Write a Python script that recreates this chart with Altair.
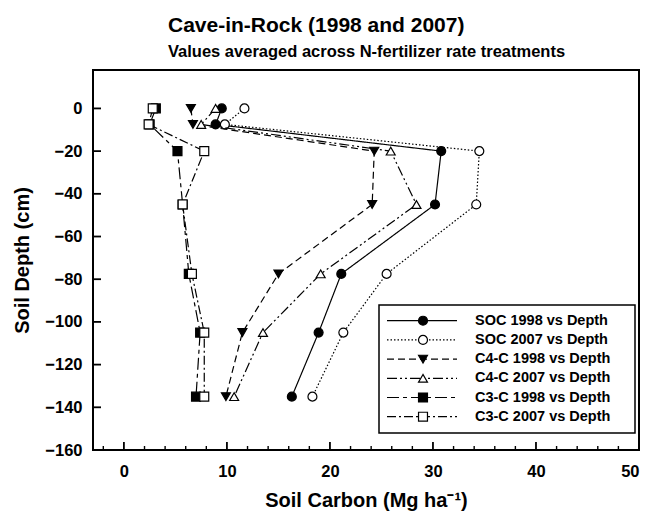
import altair as alt
import pandas as pd

# ---- data ----
depth = [0, -7.5, -20, -45, -77.5, -105, -135]
soc_1998 = [9.5, 8.9, 30.8, 30.2, 21.1, 18.9, 16.3]
soc_2007 = [11.7, 9.8, 34.5, 34.2, 25.5, 21.3, 18.3]
c4_1998 = [6.5, 6.7, 24.3, 24.1, 15.0, 11.5, 9.9]
c4_2007 = [8.9, 7.5, 25.9, 28.4, 19.1, 13.5, 10.7]
c3_1998 = [3.1, 2.5, 5.2, 5.7, 6.3, 7.4, 7.0]
c3_2007 = [2.8, 2.4, 7.8, 5.7, 6.6, 7.8, 7.8]

series_names = ["SOC 1998 vs Depth", "SOC 2007 vs Depth", "C4-C 1998 vs Depth",
                "C4-C 2007 vs Depth", "C3-C 1998 vs Depth", "C3-C 2007 vs Depth"]
series_values = [soc_1998, soc_2007, c4_1998, c4_2007, c3_1998, c3_2007]

x_ticks_major = [0, 10, 20, 30, 40, 50]
x_ticks_minor = [-2, 2, 4, 6, 8, 12, 14, 16, 18, 22, 24, 26, 28, 32, 34, 36, 38, 42, 44, 46, 48]
y_ticks = [-160, -140, -120, -100, -80, -60, -40, -20, 0]

title_text = "Cave-in-Rock (1998 and 2007)"
subtitle_text = "Values averaged across N-fertilizer rate treatments"

# ---- styles ----
styles = [
    dict(shape="circle", filled=True, dash=[1, 0]),
    dict(shape="circle", filled=False, dash=[1.5, 2]),
    dict(shape="triangle-down", filled=True, dash=[7, 4]),
    dict(shape="triangle-up", filled=False, dash=[10, 3, 2, 3, 2, 3]),
    dict(shape="square", filled=True, dash=[12, 4, 4, 4]),
    dict(shape="square", filled=False, dash=[9, 3, 2, 3]),
]

W, H = 546, 380
FONT = "Liberation Sans"

xscale = alt.Scale(domain=[-3, 50], nice=False, zero=False)
yscale = alt.Scale(domain=[-160, 18], nice=False, zero=False)

xaxis = alt.Axis(values=x_ticks_major, ticks=False, domain=False, grid=False,
                 labelFont=FONT, labelFontSize=16.5, labelFontWeight="bold", labelColor="black",
                 labelPadding=13, title="Soil Carbon (Mg ha\u207b\u00b9)", titleFont=FONT,
                 titleFontSize=20, titleFontWeight="bold", titleColor="black", titlePadding=11)
yaxis = alt.Axis(values=y_ticks, ticks=False, domain=False, grid=False,
                 labelFont=FONT, labelFontSize=16.5, labelFontWeight="bold", labelColor="black",
                 labelPadding=11, title="Soil Depth (cm)", titleFont=FONT,
                 titleFontSize=20, titleFontWeight="bold", titleColor="black", titlePadding=12)

layers = []

# inward ticks
df_xmaj = pd.DataFrame({"v": x_ticks_major})
df_xmin = pd.DataFrame({"v": x_ticks_minor})
df_y = pd.DataFrame({"v": y_ticks})
layers.append(alt.Chart(df_xmaj).mark_rule(color="black", strokeWidth=1.8).encode(
    x=alt.X("v:Q", scale=xscale, axis=xaxis), y=alt.value(H), y2=alt.value(H - 8)))
layers.append(alt.Chart(df_xmin).mark_rule(color="black", strokeWidth=1.4).encode(
    x=alt.X("v:Q", scale=xscale), y=alt.value(H), y2=alt.value(H - 4)))
layers.append(alt.Chart(df_y).mark_rule(color="black", strokeWidth=1.8).encode(
    y=alt.Y("v:Q", scale=yscale, axis=yaxis), x=alt.value(0), x2=alt.value(8)))

# data series
for name, vals, st in zip(series_names, series_values, styles):
    df = pd.DataFrame({"c": vals, "d": depth, "i": list(range(len(depth)))})
    base = alt.Chart(df)
    layers.append(base.mark_line(color="black", strokeWidth=1.2, strokeDash=st["dash"]).encode(
        x=alt.X("c:Q", scale=xscale), y=alt.Y("d:Q", scale=yscale), order="i:Q"))
    layers.append(base.mark_point(shape=st["shape"], filled=True,
                                  fill="black" if st["filled"] else "white",
                                  stroke="black", strokeWidth=1.2, size=80, opacity=1).encode(
        x=alt.X("c:Q", scale=xscale), y=alt.Y("d:Q", scale=yscale)))

# legend (drawn as marks)
box = pd.DataFrame({"k": [0]})
layers.append(alt.Chart(box).mark_rect(fill="white", stroke="black", strokeWidth=1.5).encode(
    x=alt.value(286), x2=alt.value(542), y=alt.value(235), y2=alt.value(363)))
row0, rowh = 250.7, 19.2
for k, (name, st) in enumerate(zip(series_names, styles)):
    ldf = pd.DataFrame({"label": [name], "py": [row0 + k * rowh]})
    lb = alt.Chart(ldf)
    layers.append(lb.mark_rule(color="black", strokeWidth=1.2, strokeDash=st["dash"]).encode(
        x=alt.value(294), x2=alt.value(364), y=alt.Y("py:Q", scale=None)))
    layers.append(lb.mark_point(shape=st["shape"], filled=True,
                                fill="black" if st["filled"] else "white",
                                stroke="black", strokeWidth=1.2, size=80, opacity=1).encode(
        x=alt.value(330), y=alt.Y("py:Q", scale=None)))
    layers.append(lb.mark_text(align="left", baseline="middle", font=FONT, fontSize=14.5,
                               fontWeight="bold", color="black").encode(
        x=alt.value(382), y=alt.Y("py:Q", scale=None), text="label:N"))

# title and subtitle as text marks
tdf = pd.DataFrame({"t": [title_text]})
sdf = pd.DataFrame({"t": [subtitle_text]})
layers.append(alt.Chart(tdf).mark_text(align="left", baseline="alphabetic", font=FONT, fontSize=21,
                                       fontWeight="bold", color="black").encode(
    x=alt.value(75), y=alt.value(-38), text="t:N"))
layers.append(alt.Chart(sdf).mark_text(align="left", baseline="alphabetic", font=FONT, fontSize=16.5,
                                       fontWeight="bold", color="black").encode(
    x=alt.value(75), y=alt.value(-13), text="t:N"))

chart = alt.layer(*layers).properties(
    width=W, height=H,
    autosize=alt.AutoSizeParams(type="none"),
    padding={"left": 85, "top": 62, "right": 3, "bottom": 67},
    background="white",
).configure_view(stroke="black", strokeWidth=2)

chart.save("out.html", embed_options={"renderer": "svg", "actions": False})
